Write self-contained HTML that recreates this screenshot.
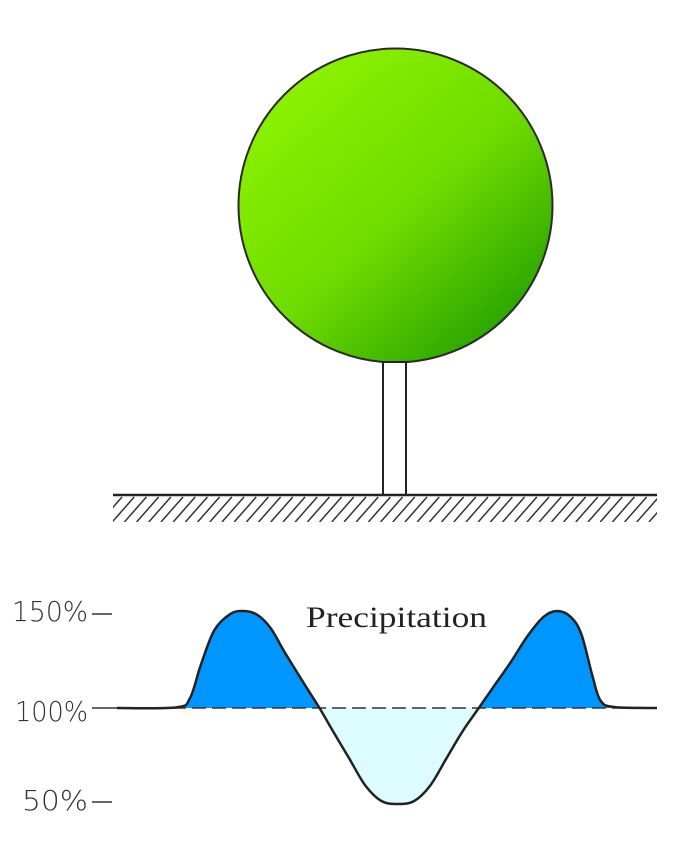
<!DOCTYPE html>
<html><head><meta charset="utf-8"><style>
html,body{margin:0;padding:0;background:#fff;}
svg{display:block;}
</style></head><body>
<svg width="681" height="859" viewBox="0 0 681 859">
<defs>
<linearGradient id="crown" x1="0.15" y1="0.1" x2="0.9" y2="0.95">
<stop offset="0" stop-color="#8cf200"/><stop offset="0.5" stop-color="#6fdc00"/><stop offset="1" stop-color="#1f9c00"/>
</linearGradient>
<clipPath id="above"><rect x="0" y="0" width="681" height="708"/></clipPath>
<clipPath id="below"><rect x="0" y="708" width="681" height="151"/></clipPath>
<clipPath id="hatchclip"><rect x="113" y="496" width="544" height="26"/></clipPath>
</defs>
<circle cx="395.5" cy="205.5" r="157" fill="url(#crown)" stroke="#2a2a2a" stroke-width="2"/>
<rect x="383" y="362" width="23" height="133" fill="#fff" stroke="#222" stroke-width="2"/>
<line x1="113" y1="495" x2="657" y2="495" stroke="#222" stroke-width="2.5"/>
<g id="hatch" clip-path="url(#hatchclip)" stroke="#333" stroke-width="1.5"></g>
<g id="chart"></g>
<text x="306" y="627" font-family="Liberation Serif, serif" font-size="30" fill="#222" textLength="181" lengthAdjust="spacingAndGlyphs">Precipitation</text>
<g font-family="DejaVu Sans, Liberation Sans, sans-serif" font-size="28" fill="#333" font-weight="300">
<text x="88" y="621" text-anchor="end" textLength="76" lengthAdjust="spacingAndGlyphs">150%</text>
<text x="88" y="721" text-anchor="end" textLength="73" lengthAdjust="spacingAndGlyphs">100%</text>
<text x="88" y="810" text-anchor="end" textLength="66" lengthAdjust="spacingAndGlyphs">50%</text>
</g>
</svg>
<script>
const xs = [0,11,13.5,15.5,18,21,23.5,26,28.5,31,35,37.5,40,43,46,49,52,55,58,61,64,67,70,73,76,79,81.5,84,86,88,89.5,92,100];
const pct = [100,100.3,105,122,140,148.5,150,148,141,129,111,100,88,74,60,52,50.5,52,60,74,88,100,112,124,137,147,150,147,138,117,104,100.5,100];
const ticks = [150,100,50];
const NS='http://www.w3.org/2000/svg';
const X = u => 117 + u*5.4;
const Y = p => 708 - (p-100)*1.94;
const hg=document.getElementById('hatch');
for(let x=100;x<680;x+=12.2){const l=document.createElementNS(NS,'line');
l.setAttribute('x1',x);l.setAttribute('y1',522);l.setAttribute('x2',x+22);l.setAttribute('y2',497);


hg.appendChild(l);}
const pts=xs.map((u,i)=>[X(u),Y(pct[i])]);
let d='M'+pts[0][0]+','+pts[0][1];
for(let i=0;i<pts.length-1;i++){const p0=pts[Math.max(0,i-1)],p1=pts[i],p2=pts[i+1],p3=pts[Math.min(pts.length-1,i+2)];
const c1=[p1[0]+(p2[0]-p0[0])/6,p1[1]+(p2[1]-p0[1])/6],c2=[p2[0]-(p3[0]-p1[0])/6,p2[1]-(p3[1]-p1[1])/6];
d+=' C'+c1+' '+c2+' '+p2;}
const g=document.getElementById('chart');
const area=d+' L'+pts[pts.length-1][0]+','+Y(100)+' L'+pts[0][0]+','+Y(100)+' Z';
const a1=document.createElementNS(NS,'path');a1.setAttribute('d',area);a1.setAttribute('fill','#0096ff');a1.setAttribute('clip-path','url(#above)');


g.appendChild(a1);
const a2=document.createElementNS(NS,'path');a2.setAttribute('d',area);a2.setAttribute('fill','#ddfcff');a2.setAttribute('clip-path','url(#below)');


g.appendChild(a2);
const bl=document.createElementNS(NS,'line');bl.setAttribute('x1',112);bl.setAttribute('x2',657);bl.setAttribute('y1',Y(100));bl.setAttribute('y2',Y(100));
bl.setAttribute('stroke','#333');bl.setAttribute('stroke-width','1.5');bl.setAttribute('stroke-dasharray','14,6');


g.appendChild(bl);
const ln=document.createElementNS(NS,'path');ln.setAttribute('d',d);ln.setAttribute('fill','none');ln.setAttribute('stroke','#222');ln.setAttribute('stroke-width','2.5');


g.appendChild(ln);
ticks.forEach(t=>{const l=document.createElementNS(NS,'line');l.setAttribute('x1',92);l.setAttribute('x2',112);
l.setAttribute('y1',Y(t)+ (t==150?3:t==50?-3:0));l.setAttribute('y2',Y(t)+(t==150?3:t==50?-3:0));l.setAttribute('stroke','#333');l.setAttribute('stroke-width','1.5');


g.appendChild(l);});
</script>
</body></html>
